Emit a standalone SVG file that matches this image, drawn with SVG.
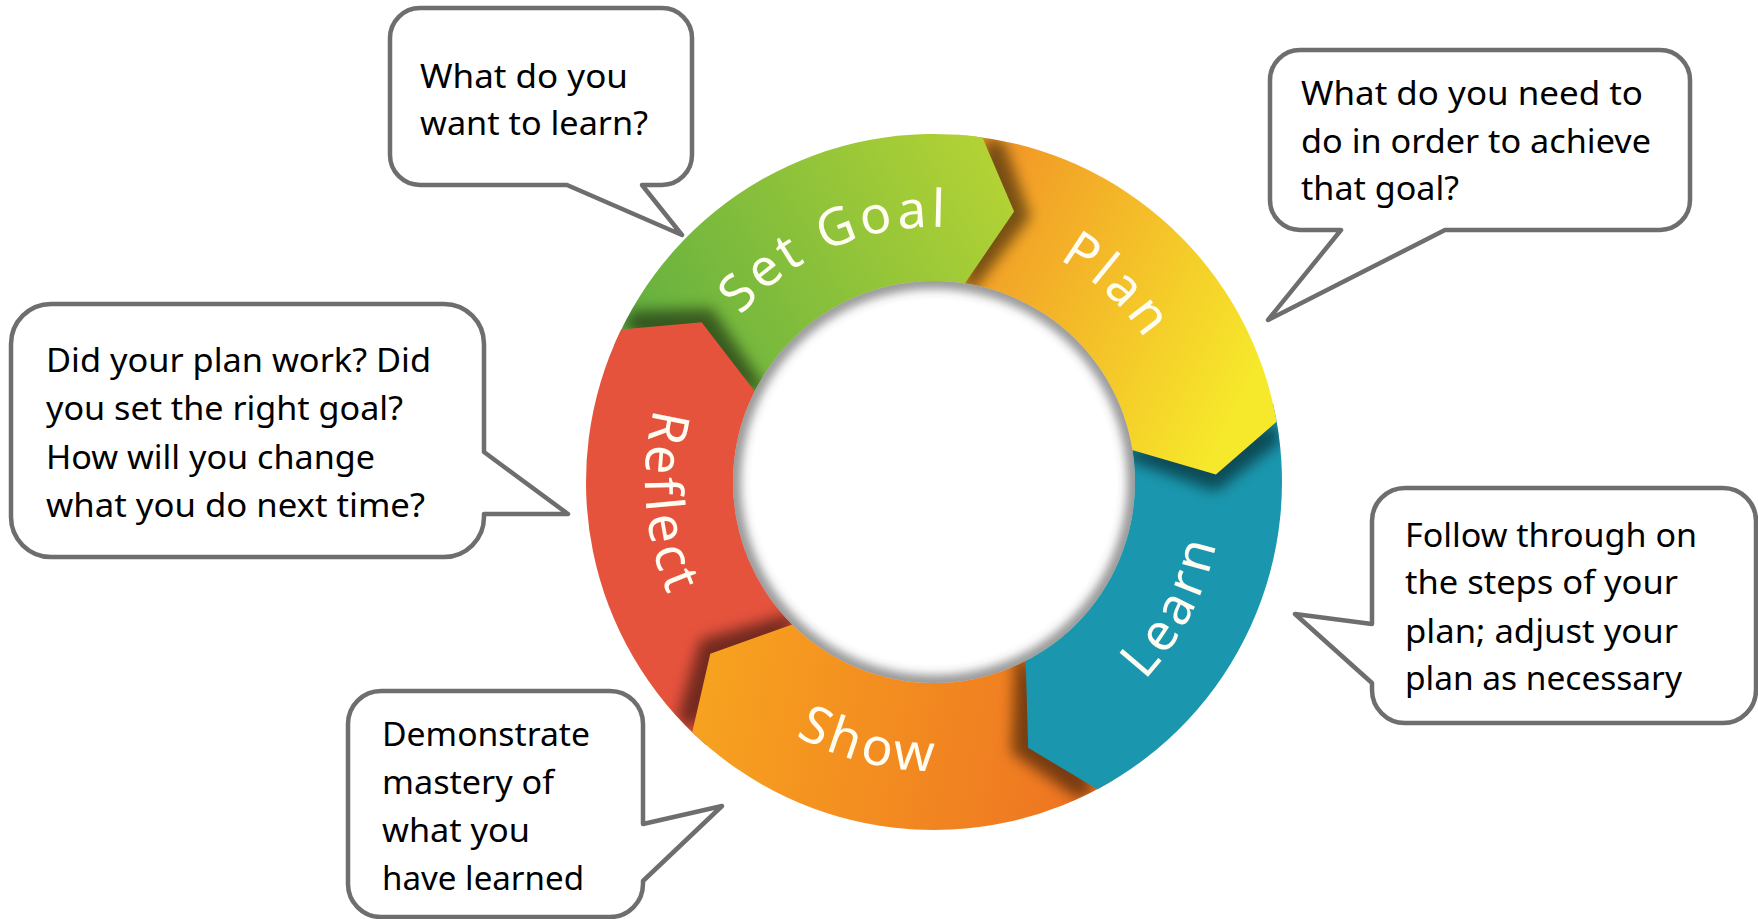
<svg xmlns="http://www.w3.org/2000/svg" width="1758" height="919" viewBox="0 0 1758 919">
<style>
.bubble path{fill:#fff;stroke:#6e6e6e;stroke-width:4.5;stroke-linejoin:round}
.btext{font-family:"Noto Sans","Open Sans","Liberation Sans",sans-serif;font-size:33px;fill:#000}
.label{font-family:"Noto Sans","Open Sans","Liberation Sans",sans-serif;font-size:52px;fill:#fffdf2;letter-spacing:4px}
.shadow{fill:#000;opacity:0.5}
</style>
<defs>
<linearGradient id="gGreen" gradientUnits="userSpaceOnUse" x1="620" y1="360" x2="1000" y2="150"><stop offset="0" stop-color="#5fae41"/><stop offset="1" stop-color="#b5d334"/></linearGradient>
<linearGradient id="gPlan" gradientUnits="userSpaceOnUse" x1="990" y1="200" x2="1270" y2="340"><stop offset="0" stop-color="#f29a27"/><stop offset="1" stop-color="#f6e82b"/></linearGradient>
<linearGradient id="gShow" gradientUnits="userSpaceOnUse" x1="700" y1="700" x2="1100" y2="780"><stop offset="0" stop-color="#f7a21f"/><stop offset="1" stop-color="#ee7322"/></linearGradient>
<filter id="blur" x="-50%" y="-50%" width="200%" height="200%"><feGaussianBlur stdDeviation="7"/></filter>
<filter id="soft" x="-20%" y="-20%" width="140%" height="140%"><feGaussianBlur stdDeviation="5"/></filter>
<clipPath id="ring"><circle cx="934" cy="482" r="348"/></clipPath>
<clipPath id="hole"><circle cx="934" cy="482" r="201"/></clipPath>
<path id="tpGoal" d="M 679.35 495.35 A 255 255 0 0 1 1120.49 308.09"/>
<path id="tpPlan" d="M 818.23 254.79 A 255 255 0 0 1 1168.73 581.64"/>
<path id="tpLearn" d="M 896.28 768.53 A 289 289 0 0 0 1147.07 286.75"/>
<path id="tpShow" d="M 646.58 512.21 A 289 289 0 0 0 1173.59 643.61"/>
<path id="tpReflect" d="M 814.15 219.02 A 289 289 0 0 0 856.77 760.49"/>
</defs>
<rect width="1758" height="919" fill="#fff"/>

<g id="connectors"></g>

<g id="node-set-goal">
<path d="M 613.67 346.03 A 348 348 0 0 1 982.43 137.39 L 1014.09 211.61 L 961.14 288.90 A 195 195 0 0 0 754.50 405.81 Z" fill="url(#gGreen)"/>
<text class="label"><textPath href="#tpGoal" startOffset="50%" text-anchor="middle">Set Goal</textPath></text>
</g>

<g clip-path="url(#ring)"><polygon class="shadow" filter="url(#blur)" transform="rotate(3.5 934 482)" points="613.67,346.03 621.22,329.45 701.60,322.27 758.74,396.52 754.50,405.81"/></g>
<g id="node-reflect">
<path d="M 705.69 744.64 A 348 348 0 0 1 621.22 329.45 L 701.60 322.27 L 758.74 396.52 A 195 195 0 0 0 806.07 629.17 Z" fill="#e6533d"/>
<text class="label"><textPath href="#tpReflect" startOffset="50%" text-anchor="middle">Reflect</textPath></text>
</g>

<g clip-path="url(#ring)"><polygon class="shadow" filter="url(#blur)" transform="rotate(3.5 934 482)" points="705.69,744.64 692.26,732.33 710.28,653.67 798.54,622.27 806.07,629.17"/></g>
<g id="node-show">
<path d="M 1113.23 780.30 A 348 348 0 0 1 692.26 732.33 L 710.28 653.67 L 798.54 622.27 A 195 195 0 0 0 1034.43 649.15 Z" fill="url(#gShow)"/>
<text class="label"><textPath href="#tpShow" startOffset="50%" text-anchor="middle">Show</textPath></text>
</g>

<g clip-path="url(#ring)"><polygon class="shadow" filter="url(#blur)" transform="rotate(3.5 934 482)" points="1113.23,780.30 1097.38,789.27 1028.13,747.82 1025.55,654.18 1034.43,649.15"/></g>
<g id="node-learn">
<path d="M 1273.08 403.72 A 348 348 0 0 1 1097.38 789.27 L 1028.13 747.82 L 1025.55 654.18 A 195 195 0 0 0 1124.00 438.13 Z" fill="#1a97ae"/>
<text class="label"><textPath href="#tpLearn" startOffset="50%" text-anchor="middle">Learn</textPath></text>
</g>

<g clip-path="url(#ring)"><polygon class="shadow" filter="url(#blur)" transform="rotate(3.5 934 482)" points="1273.08,403.72 1276.71,421.57 1215.90,474.62 1126.04,448.14 1124.00,438.13"/></g>
<g id="node-plan">
<path d="M 970.38 135.91 A 348 348 0 0 1 1276.71 421.57 L 1215.90 474.62 L 1126.04 448.14 A 195 195 0 0 0 954.38 288.07 Z" fill="url(#gPlan)"/>
<text class="label"><textPath href="#tpPlan" startOffset="50%" text-anchor="middle">Plan</textPath></text>
</g>

<g clip-path="url(#ring)"><polygon class="shadow" filter="url(#blur)" transform="rotate(3.5 934 482)" points="964.33,135.33 982.43,137.39 1014.09,211.61 961.14,288.90 951.00,287.74"/></g>
<g id="node-set-goal-head">
<path d="M 958.28 134.85 A 348 348 0 0 1 982.43 137.39 L 1014.09 211.61 L 961.14 288.90 A 195 195 0 0 0 947.60 287.48 Z" fill="url(#gGreen)"/>
</g>

<g id="center-hole">
<circle cx="934" cy="482" r="201" fill="#fff"/>
<g clip-path="url(#hole)"><circle cx="934" cy="482" r="201" fill="none" stroke="#444" stroke-opacity="0.55" stroke-width="16" filter="url(#soft)"/></g>
</g>

<g id="bubble-set-goal" class="bubble">
<path d="M 420 8 H 662 A 30 30 0 0 1 692 38 V 155 A 30 30 0 0 1 662 185 H 642 L 682 235 L 567 185 H 420 A 30 30 0 0 1 390 155 V 38 A 30 30 0 0 1 420 8 Z"/>
<text class="btext" x="420" y="88" textLength="208" lengthAdjust="spacingAndGlyphs">What do you</text>
<text class="btext" x="420" y="135" textLength="228" lengthAdjust="spacingAndGlyphs">want to learn?</text>
</g>

<g id="bubble-plan" class="bubble">
<path d="M 1300 50 H 1660 A 30 30 0 0 1 1690 80 V 200 A 30 30 0 0 1 1660 230 H 1445 L 1268 320 L 1341 230 H 1300 A 30 30 0 0 1 1270 200 V 80 A 30 30 0 0 1 1300 50 Z"/>
<text class="btext" x="1301" y="105" textLength="342" lengthAdjust="spacingAndGlyphs">What do you need to</text>
<text class="btext" x="1301" y="153" textLength="350" lengthAdjust="spacingAndGlyphs">do in order to achieve</text>
<text class="btext" x="1301" y="200" textLength="158" lengthAdjust="spacingAndGlyphs">that goal?</text>
</g>

<g id="bubble-reflect" class="bubble">
<path d="M 51 304 H 444 A 40 40 0 0 1 484 344 V 452 L 568 514 H 484 V 517 A 40 40 0 0 1 444 557 H 51 A 40 40 0 0 1 11 517 V 344 A 40 40 0 0 1 51 304 Z"/>
<text class="btext" x="46" y="372" textLength="385" lengthAdjust="spacingAndGlyphs">Did your plan work? Did</text>
<text class="btext" x="46" y="420" textLength="357" lengthAdjust="spacingAndGlyphs">you set the right goal?</text>
<text class="btext" x="46" y="469" textLength="329" lengthAdjust="spacingAndGlyphs">How will you change</text>
<text class="btext" x="46" y="517" textLength="379" lengthAdjust="spacingAndGlyphs">what you do next time?</text>
</g>

<g id="bubble-learn" class="bubble">
<path d="M 1405 488 H 1723 A 33 33 0 0 1 1756 521 V 690 A 33 33 0 0 1 1723 723 H 1405 A 33 33 0 0 1 1372 690 V 683 L 1295 614 L 1372 624 V 521 A 33 33 0 0 1 1405 488 Z"/>
<text class="btext" x="1405" y="547" textLength="292" lengthAdjust="spacingAndGlyphs">Follow through on</text>
<text class="btext" x="1405" y="594" textLength="273" lengthAdjust="spacingAndGlyphs">the steps of your</text>
<text class="btext" x="1405" y="643" textLength="273" lengthAdjust="spacingAndGlyphs">plan; adjust your</text>
<text class="btext" x="1405" y="690" textLength="277" lengthAdjust="spacingAndGlyphs">plan as necessary</text>
</g>

<g id="bubble-show" class="bubble">
<path d="M 381 691 H 610 A 33 33 0 0 1 643 724 V 824 L 722 806 L 643 881 V 884 A 33 33 0 0 1 610 917 H 381 A 33 33 0 0 1 348 884 V 724 A 33 33 0 0 1 381 691 Z"/>
<text class="btext" x="382" y="746" textLength="208" lengthAdjust="spacingAndGlyphs">Demonstrate</text>
<text class="btext" x="382" y="794" textLength="172" lengthAdjust="spacingAndGlyphs">mastery of</text>
<text class="btext" x="382" y="842" textLength="148" lengthAdjust="spacingAndGlyphs">what you</text>
<text class="btext" x="382" y="890" textLength="202" lengthAdjust="spacingAndGlyphs">have learned</text>
</g>
</svg>
